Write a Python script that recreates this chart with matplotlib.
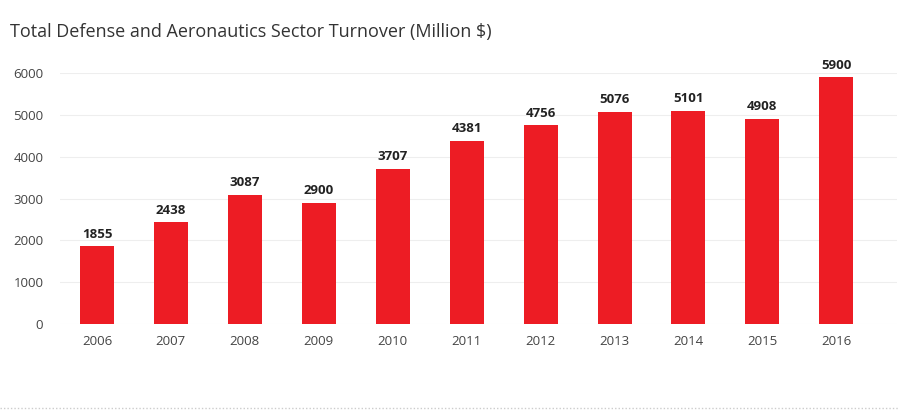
import matplotlib
matplotlib.use("Agg")
import matplotlib.pyplot as plt
from matplotlib.lines import Line2D

years = ["2006", "2007", "2008", "2009", "2010", "2011", "2012", "2013", "2014", "2015", "2016"]
turnover = [1855, 2438, 3087, 2900, 3707, 4381, 4756, 5076, 5101, 4908, 5900]
yticks = [0, 1000, 2000, 3000, 4000, 5000, 6000]

plt.rcParams['font.family'] = ['Open Sans', 'DejaVu Sans']

W, H = 899, 418
fig = plt.figure(figsize=(W/100, H/100), dpi=100)
ax = fig.add_axes([60/W, 1-324/H, (897-60)/W, (324-73)/H])

x = list(range(len(years)))
ax.bar(x, turnover, width=0.46, color="#ED1C24", zorder=3)
for xi, v in zip(x, turnover):
    ax.text(xi, v + 130, str(v), ha="center", va="bottom", fontsize=9.5,
            fontweight="bold", color="#222222", clip_on=False)

ax.set_xlim(-0.5, 10.82)
ax.set_ylim(0, 6000)
ax.set_yticks(yticks)
ax.set_xticks(x)
ax.set_xticklabels(years)
ax.grid(axis="y", color="#EEEEEE", linewidth=0.8, zorder=0)
for s in ax.spines.values():
    s.set_visible(False)
ax.tick_params(length=0, labelsize=9.5, colors="#444444")
ax.tick_params(axis="y", pad=12)
ax.tick_params(axis="x", pad=8)

fig.text(10/W, 1-32/H, "Total Defense and Aeronautics Sector Turnover (Million $)",
         fontsize=13, color="#333333", va="center", ha="left")

fig.add_artist(Line2D([0, 1], [1-408/H, 1-408/H], transform=fig.transFigure,
                      color="#CCCCCC", linewidth=1, linestyle=(0, (1, 1.5))))

fig.savefig("out.png", dpi=100)
